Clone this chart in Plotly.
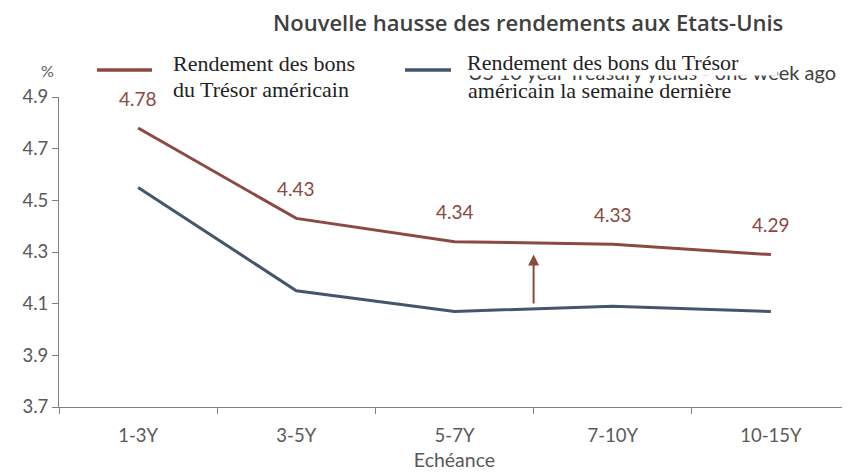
import plotly.graph_objects as go

categories = ["1-3Y", "3-5Y", "5-7Y", "7-10Y", "10-15Y"]
current_yields = [4.78, 4.43, 4.34, 4.33, 4.29]
week_ago_yields = [4.55, 4.15, 4.07, 4.09, 4.07]
y_ticks = [3.7, 3.9, 4.1, 4.3, 4.5, 4.7, 4.9]

RED = "#8a4a40"
BLUE = "#44566e"
GRAY = "#595959"
SANS = "Lato, Open Sans, sans-serif"
TITLE_FONT = "Open Sans, Lato, sans-serif"
SERIF = "Liberation Serif, DejaVu Serif, serif"

# page body has an 8px margin: figure is drawn from (8, 8) of the screenshot
OFF = 8
L_S, T_S, B_S = 59, 97, 407          # screenshot coordinates of plot edges
W, H = 850 - OFF, 473 - OFF
PW = 850 - L_S


def px(sx):
    return (sx - L_S) / PW


def ys(sy):
    return T_S - sy


fig = go.Figure()
fig.add_trace(go.Scatter(x=categories, y=week_ago_yields, mode="lines",
                         line=dict(color=BLUE, width=3), showlegend=False, hoverinfo="skip"))
fig.add_trace(go.Scatter(x=categories, y=current_yields, mode="lines",
                         line=dict(color=RED, width=3), showlegend=False, hoverinfo="skip"))

for c, v in zip(categories, current_yields):
    fig.add_annotation(x=c, y=v, text=f"{v:.2f}", showarrow=False, yshift=30,
                       xanchor="center", yanchor="middle",
                       font=dict(family=SANS, size=19, color=RED))

# arrow
fig.add_annotation(x=2.5, y=4.29, ax=2.5, ay=4.095, xref="x", yref="y", axref="x", ayref="y",
                   showarrow=True, arrowhead=2, arrowsize=1.1, arrowwidth=2, arrowcolor=RED, text="")


def paper_text(sx, sy, text, font, xanchor="left", **kw):
    fig.add_annotation(xref="paper", yref="paper", x=px(sx), y=1.0, yshift=ys(sy),
                       xanchor=xanchor, yanchor="middle", showarrow=False, text=text,
                       font=font, **kw)


# title
paper_text(528, 22, "Nouvelle hausse des rendements aux Etats-Unis",
           dict(family=TITLE_FONT, size=22, color="#404040", weight=600), xanchor="center")
# % label
paper_text(47, 70, "%", dict(family=SANS, size=16, color=GRAY), xanchor="center")

# legend (manual)
leg_y = 1.0 + (T_S - 70) / (B_S - T_S)
fig.add_shape(type="line", xref="paper", yref="paper", x0=px(97), x1=px(152),
              y0=leg_y, y1=leg_y, line=dict(color=RED, width=3.5))
fig.add_shape(type="line", xref="paper", yref="paper", x0=px(405), x1=px(451),
              y0=leg_y, y1=leg_y, line=dict(color=BLUE, width=3.5))

# ghost source-language legend text, partly hidden behind the translated label
paper_text(466, 72, "US 10 year Treasury yields - one week ago",
           dict(family=SANS, size=20, color="#404040"))

SF = dict(family=SERIF, size=22, color="#222222")
paper_text(171, 63, "Rendement des bons", SF)
paper_text(171, 89, "du Trésor américain", SF)
paper_text(466, 62, "Rendement des bons du Trésor" + "&nbsp;" * 7, SF, bgcolor="white", borderpad=0)
paper_text(466, 90, "américain la semaine dernière", SF)

fig.update_layout(
    width=W, height=H,
    margin=dict(l=L_S - OFF, r=0, t=T_S - OFF, b=H - (B_S - OFF), autoexpand=False),
    plot_bgcolor="white", paper_bgcolor="white",
    showlegend=False,
    xaxis=dict(type="category", categoryorder="array", categoryarray=categories,
               range=[-0.5, 4.5], tickson="boundaries", ticks="outside", ticklen=6,
               tickcolor="#808080", showline=True, linecolor="#808080", linewidth=1,
               showgrid=False, zeroline=False, ticklabelstandoff=12,
               tickfont=dict(family=SANS, size=18.5, color=GRAY),
               title=dict(text="Echéance", font=dict(family=SANS, size=19.5, color=GRAY), standoff=8)),
    yaxis=dict(range=[3.7, 4.9], tickvals=y_ticks, ticktext=[f"{t:.1f}" for t in y_ticks],
               ticks="outside", ticklen=6, tickcolor="#808080", showline=True,
               linecolor="#808080", linewidth=1, showgrid=False, zeroline=False,
               tickfont=dict(family=SANS, size=18.5, color=GRAY)),
)

fig.write_html("out.html")
